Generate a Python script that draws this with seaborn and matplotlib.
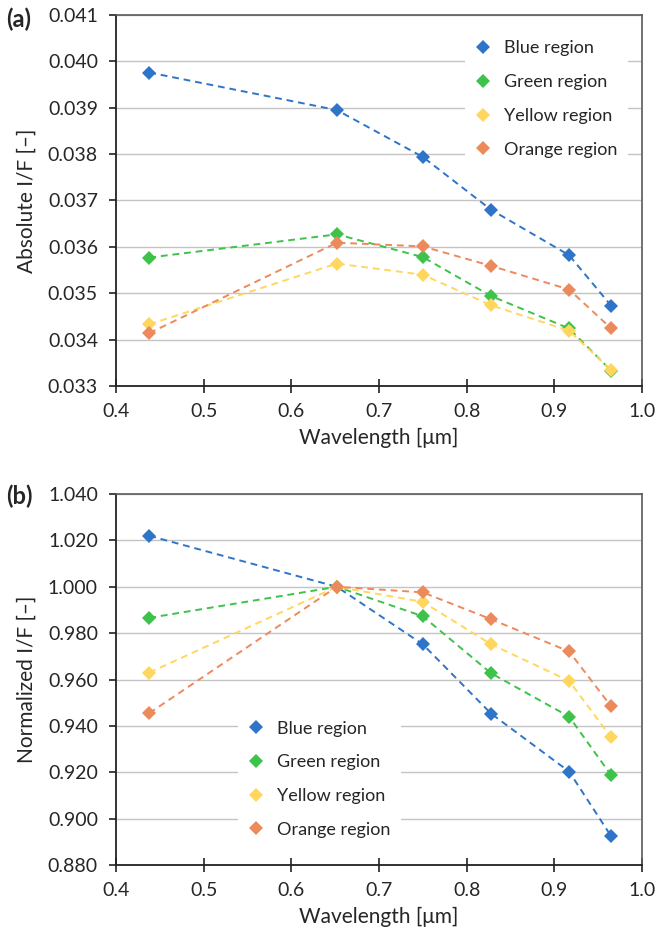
import numpy as np
import pandas as pd
import matplotlib
matplotlib.use("Agg")
import matplotlib.pyplot as plt
from matplotlib.lines import Line2D
from matplotlib.ticker import FormatStrFormatter, MultipleLocator
import seaborn as sns

# Data
wavelength = [0.438, 0.652, 0.750, 0.828, 0.917, 0.965]
regions = ["Blue region", "Green region", "Yellow region", "Orange region"]
colors = ["#2E74C8", "#3DC24A", "#FFD75E", "#EC8A5C"]

abs_blue = [0.03976, 0.03895, 0.03794, 0.03680, 0.03582, 0.03473]
abs_green = [0.03577, 0.03627, 0.03578, 0.03494, 0.03424, 0.03333]
abs_yellow = [0.03433, 0.03564, 0.03540, 0.03474, 0.03419, 0.03334]
abs_orange = [0.03414, 0.03609, 0.03601, 0.03559, 0.03508, 0.03424]

norm_blue = [1.0220, 1.0000, 0.9752, 0.9453, 0.9203, 0.8924]
norm_green = [0.9866, 1.0000, 0.9873, 0.9627, 0.9440, 0.9187]
norm_yellow = [0.9630, 1.0000, 0.9935, 0.9752, 0.9594, 0.9350]
norm_orange = [0.9455, 1.0000, 0.9976, 0.9860, 0.9721, 0.9484]


def long_df(series):
    rows = []
    for name, vals in zip(regions, series):
        for w, v in zip(wavelength, vals):
            rows.append({"wl": w, "val": v, "region": name})
    return pd.DataFrame(rows)


df_abs = long_df([abs_blue, abs_green, abs_yellow, abs_orange])
df_norm = long_df([norm_blue, norm_green, norm_yellow, norm_orange])

sns.set_style("white")
plt.rcParams["font.family"] = ["Lato", "DejaVu Sans"]

fig = plt.figure(figsize=(6.59, 9.38), dpi=100)
ax1 = fig.add_axes([0.176, 0.5885, 0.798, 0.3955])
ax2 = fig.add_axes([0.176, 0.0778, 0.798, 0.3955])


def draw(ax, df, ylim, ystep, ylabel, legend_anchor):
    sns.lineplot(data=df, x="wl", y="val", hue="region", style="region",
                 palette=colors, markers=["D"] * 4, dashes=[(3.5, 2.5)] * 4,
                 markersize=7, markeredgewidth=0, linewidth=1.4,
                 legend=False, ax=ax, zorder=3)
    ax.set_xlim(0.4, 1.0)
    ax.set_ylim(*ylim)
    ax.xaxis.set_major_locator(MultipleLocator(0.1))
    ax.yaxis.set_major_locator(MultipleLocator(ystep))
    ax.xaxis.set_major_formatter(FormatStrFormatter("%.1f"))
    ax.yaxis.set_major_formatter(FormatStrFormatter("%.3f"))
    ax.yaxis.grid(True, color="#c4c4c4", linewidth=1.0, zorder=0)
    ax.set_axisbelow(True)
    for s in ["top", "right"]:
        ax.spines[s].set_color("#5a5a5a")
        ax.spines[s].set_linewidth(1.2)
    for s in ["left", "bottom"]:
        ax.spines[s].set_color("#222222")
        ax.spines[s].set_linewidth(1.3)
    ax.tick_params(axis="x", direction="inout", length=10, width=1.2,
                   color="#222222", labelsize=14, pad=7)
    ax.tick_params(axis="y", direction="out", length=5, width=1.2,
                   color="#222222", labelsize=14, pad=8, left=True)
    ax.tick_params(axis="x", bottom=True)
    ax.set_xlabel("Wavelength [μm]", fontsize=15, labelpad=6)
    ax.set_ylabel(ylabel, fontsize=15, labelpad=8)

    handles = [Line2D([], [], marker="D", linestyle="none", markersize=7,
                      markeredgewidth=0, color=c) for c in colors]
    leg = ax.legend(handles, regions, loc="upper left",
                    bbox_to_anchor=legend_anchor, fontsize=13,
                    frameon=True, facecolor="white", edgecolor="none",
                    framealpha=1, handlelength=0.8, handletextpad=0.75,
                    labelspacing=0.98, borderpad=0.6)
    leg.set_zorder(2)


draw(ax1, df_abs, (0.033, 0.041), 0.001, "Absolute I/F [–]", (0.647, 0.985))
draw(ax2, df_norm, (0.880, 1.040), 0.020, "Normalized I/F [–]", (0.215, 0.443))

fig.text(0.010, 0.979, "(a)", fontsize=17, fontweight="bold", va="center")
fig.text(0.010, 0.471, "(b)", fontsize=17, fontweight="bold", va="center")

fig.savefig("out.png", dpi=100)
